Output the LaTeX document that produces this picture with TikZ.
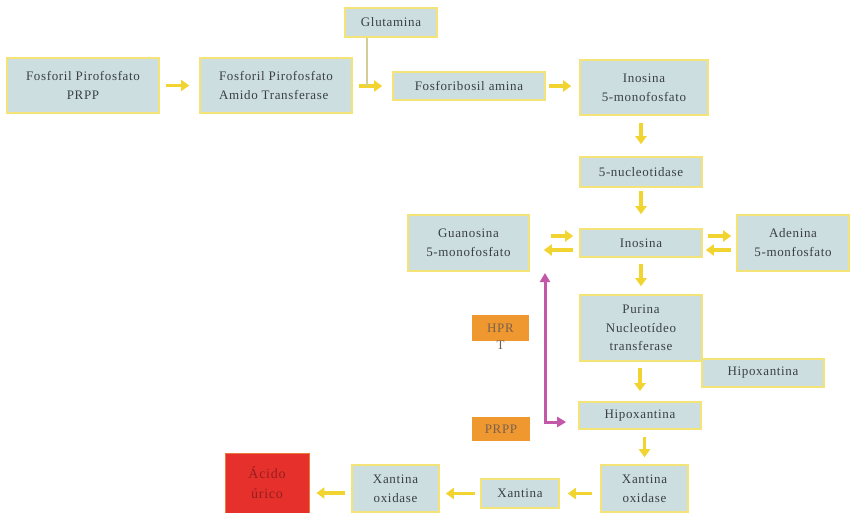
\documentclass[tikz,border=0pt]{standalone}
\usepackage{fontspec}
\setmainfont{Liberation Serif}[LetterSpace=5]
\usetikzlibrary{arrows.meta}
\definecolor{boxfill}{RGB}{204,222,224}
\definecolor{boxedge}{RGB}{244,228,120}
\definecolor{arrowyel}{RGB}{242,212,48}
\definecolor{tagorange}{RGB}{240,152,48}
\definecolor{tagtext}{RGB}{120,96,78}
\definecolor{uricred}{RGB}{230,48,44}
\definecolor{uricedge}{RGB}{236,120,60}
\definecolor{urictext}{RGB}{150,30,30}
\definecolor{recyclepink}{RGB}{196,88,168}
\definecolor{textgray}{RGB}{58,64,68}
\definecolor{feedline}{RGB}{212,204,150}
\tikzset{
    % --- Metabolite / enzyme box (pale blue, yellow rim) ---
    proc_node/.style = {
        rectangle, draw=boxedge, fill=boxfill, line width=1.6pt,
        text=textgray, align=center, inner sep=2pt,
        font=\fontsize{13}{19}\selectfont
    },
    % --- Orange tag (enzyme / cofactor) ---
    tag_node/.style = {
        proc_node, draw=none, fill=tagorange, text=tagtext
    },
    % --- End product ---
    end_node/.style = {
        proc_node, draw=uricedge, line width=0.8pt, fill=uricred, text=urictext,
        font=\fontsize{14}{20}\selectfont
    },
    % --- Yellow pathway arrow ---
    flow/.style = {
        -{Triangle[width=11pt,length=8pt]}, line width=3.5pt, draw=arrowyel,
        shorten <=6pt, shorten >=9pt
    },
    % --- Salvage arrow ---
    recycle/.style = {
        {Triangle[width=10pt,length=9pt]}-{Triangle[width=10pt,length=9pt]},
        line width=3pt, draw=recyclepink
    },
    % --- Thin feed line ---
    feed/.style = {
        line width=1.2pt, draw=feedline
    }
}

\begin{document}
\begin{tikzpicture}[x=1pt, y=-1pt]
\useasboundingbox (0,0) rectangle (851,513);

% ---------------------------------------------------------
% 1. De novo branch (top row)
% ---------------------------------------------------------
\node[proc_node, minimum width=152pt, minimum height=55pt] (prpp)   at (83, 85.5)  {Fosforil Pirofosfato\\PRPP};
\node[proc_node, minimum width=152pt, minimum height=55pt, align=left] (amido) at (276, 85.5) {Fosforil Pirofosfato\\Amido Transferase};
\node[proc_node, minimum width=92pt,  minimum height=29pt] (glut)   at (391, 22.5) {Glutamina};
\node[proc_node, minimum width=152pt, minimum height=28pt] (fosfam) at (469, 86)   {Fosforibosil amina};
\node[proc_node, minimum width=128pt, minimum height=55pt] (imp)    at (644, 87.5) {Inosina\\5-monofosfato};

% ---------------------------------------------------------
% 2. Middle column
% ---------------------------------------------------------
\node[proc_node, minimum width=122pt, minimum height=30pt] (nucl) at (641, 172)   {5-nucleotidase};
\node[proc_node, minimum width=121pt, minimum height=56pt] (gmp)  at (468.5, 243) {Guanosina\\5-monofosfato};
\node[proc_node, minimum width=122pt, minimum height=28pt] (ino)  at (641, 243)   {Inosina};
\node[proc_node, minimum width=112pt, minimum height=56pt] (amp)  at (793, 243)   {Adenina\\5-monfosfato};
\node[proc_node, minimum width=122pt, minimum height=66pt, font=\fontsize{13}{18.5}\selectfont] (pnt) at (641, 328) {Purina\\Nucleotídeo\\transferase};
\node[proc_node, minimum width=122pt, minimum height=28pt] (hiposide) at (763, 373)   {Hipoxantina};
\node[proc_node, minimum width=122pt, minimum height=27pt] (hipo)     at (640, 415.5) {Hipoxantina};

% Tags (the T of HPRT hangs out of its box)
\node[tag_node, minimum width=57pt, minimum height=26pt, text depth=3pt, font=\fontsize{13}{17}\selectfont] (hprt) at (500.5, 328) {\begin{tabular}[t]{@{}c@{}}HPR\\T\end{tabular}};
\node[tag_node, minimum width=58pt, minimum height=24pt] (prppt) at (501, 429) {PRPP};

% ---------------------------------------------------------
% 3. Bottom row (to uric acid)
% ---------------------------------------------------------
\node[proc_node, minimum width=87pt, minimum height=47pt] (xo1)   at (644.5, 488.5) {Xantina\\oxidase};
\node[proc_node, minimum width=78pt, minimum height=29pt] (xan)   at (520, 493.5)   {Xantina};
\node[proc_node, minimum width=87pt, minimum height=47pt] (xo2)   at (395.5, 488.5) {Xantina\\oxidase};
\node[end_node,  minimum width=84pt, minimum height=60pt] (acido) at (267, 483)     {Ácido\\úrico};

% ---------------------------------------------------------
% 4. Wiring
% ---------------------------------------------------------
\draw[flow, shorten >=10pt] (prpp) -- (amido);
\draw[flow, shorten >=10pt] (amido.east |- fosfam.west) -- (fosfam.west);
\coordinate (join) at (367, 86);
\draw[feed] (glut.south -| join) -- (join);
\draw[flow, shorten <=3pt, shorten >=8pt] (fosfam.east) -- (fosfam.east -| imp.west);
\draw[flow, shorten <=7pt, shorten >=12pt] (imp.south -| nucl.north) -- (nucl.north);
\draw[flow, shorten <=3pt, shorten >=14pt] (nucl) -- (ino);

% Guanosina / Adenina exchange
\draw[flow, shorten <=21pt, shorten >=6pt] ([yshift=7pt]gmp.east) -- ([yshift=7pt]ino.west);
\draw[flow, shorten >=14pt] ([yshift=-7pt]ino.west) -- ([yshift=-7pt]gmp.east);
\draw[flow, shorten <=5pt, shorten >=5pt] ([yshift=7pt]ino.east) -- ([yshift=7pt]amp.west);
\draw[flow, shorten <=5pt, shorten >=3pt] ([yshift=-7pt]amp.west) -- ([yshift=-7pt]ino.east);

\draw[flow, shorten >=8pt] (ino) -- (pnt);
\draw[flow, shorten >=10pt] (pnt.south -| hipo.north) -- (hipo.north);
\draw[flow, shorten <=7pt, shorten >=7pt] (hipo.south -| xo1.north) -- (xo1.north);

% Salvage
\coordinate (salv) at (545, 273);
\draw[recycle, shorten >=12pt] (salv) |- ([yshift=-6.5pt]hipo.west);

% Towards uric acid
\draw[flow, shorten <=8pt, shorten >=8pt] (xo1.west |- xan.east) -- (xan.east);
\draw[flow, shorten <=5pt, shorten >=6pt] (xan.west) -- (xan.west -| xo2.east);
\draw[flow, shorten >=7pt] ([yshift=-4.5pt]xo2.west) -- ([yshift=-4.5pt]xo2.west -| acido.east);

\end{tikzpicture}
\end{document}
